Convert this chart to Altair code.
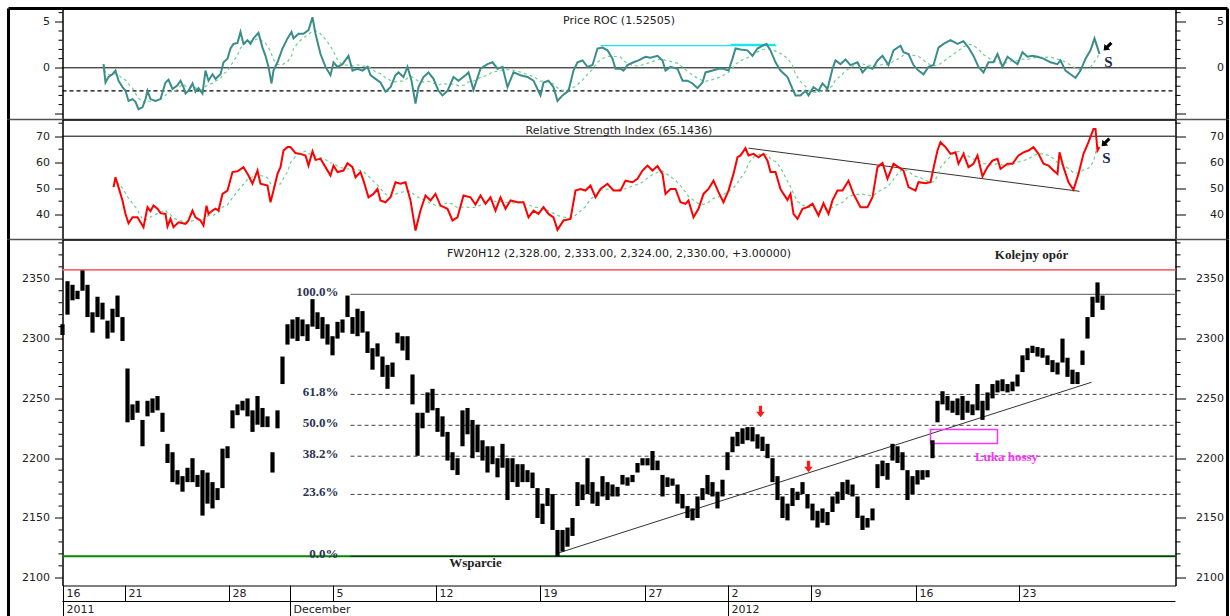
import altair as alt
import pandas as pd

W = 1113
H_ROC, H_RSI, H_PX = 111, 120, 346
ROC_DOM = [-5.62, 6.45]
RSI_DOM = [30.27, 76.42]
PX_DOM = [2093.56, 2382.86]

LABEL_FONT = "DejaVu Sans"
SERIF = "Liberation Serif"
TXT = "#222222"

# ---------------- data ----------------
# price bars (one bar every 5 time units)
bar_low = [2303, 2320, 2332, 2333, 2340, 2318, 2305, 2318, 2316, 2300,
           2305, 2318, 2298, 2230, 2232, 2238, 2210, 2235, 2238, 2240,
           2222, 2196, 2180, 2178, 2172, 2180, 2180, 2176, 2152, 2162,
           2158, 2165, 2175, 2200, 2225, 2236, 2240, 2235, 2222, 2228,
           2226, 2226, 2188, 2225, 2262, 2295, 2300, 2298, 2302, 2298,
           2310, 2308, 2300, 2295, 2286, 2300, 2305, 2318, 2304, 2302,
           2305, 2288, 2274, 2285, 2268, 2258, 2268, 2296, 2290, 2282,
           2245, 2202, 2225, 2238, 2240, 2222, 2218, 2198, 2190, 2186,
           2210, 2220, 2200, 2205, 2198, 2188, 2195, 2184, 2192, 2165,
           2180, 2176, 2180, 2180, 2175, 2150, 2145, 2160, 2140, 2118,
           2122, 2126, 2135, 2160, 2165, 2170, 2162, 2160, 2168, 2165,
           2168, 2168, 2178, 2177, 2180, 2188, 2194, 2194, 2190, 2190,
           2168, 2176, 2177, 2162, 2158, 2150, 2148, 2150, 2165, 2170,
           2168, 2158, 2168, 2190, 2205, 2210, 2212, 2215, 2214, 2208,
           2206, 2200, 2180, 2165, 2150, 2148, 2160, 2165, 2170, 2158,
           2148, 2142, 2146, 2144, 2155, 2162, 2165, 2170, 2168, 2150,
           2140, 2142, 2148, 2175, 2185, 2182, 2198, 2196, 2190, 2165,
           2170, 2178, 2182, 2184, 2200, 2230, 2245, 2240, 2238, 2236,
           2232, 2238, 2236, 2240, 2232, 2240, 2250, 2255, 2256, 2255,
           2256, 2260, 2272, 2282, 2288, 2285, 2284, 2278, 2272, 2270,
           2280, 2268, 2262, 2262, 2278, 2300, 2318, 2330, 2324]
bar_high = [2312, 2348, 2345, 2340, 2357, 2345, 2322, 2335, 2330, 2315,
            2325, 2336, 2318, 2275, 2245, 2248, 2232, 2248, 2250, 2252,
            2238, 2212, 2205, 2190, 2185, 2192, 2200, 2186, 2190, 2188,
            2180, 2175, 2208, 2210, 2240, 2245, 2248, 2250, 2240, 2252,
            2242, 2235, 2205, 2240, 2285, 2312, 2316, 2318, 2316, 2312,
            2333, 2322, 2318, 2312, 2302, 2314, 2316, 2336, 2318, 2325,
            2323, 2306, 2292, 2296, 2285, 2278, 2280, 2305, 2302, 2302,
            2270, 2238, 2238, 2255, 2258, 2242, 2235, 2222, 2205, 2200,
            2240, 2242, 2232, 2228, 2215, 2210, 2210, 2200, 2212, 2200,
            2200, 2195, 2195, 2190, 2188, 2175, 2162, 2175, 2170, 2140,
            2140, 2142, 2150, 2180, 2178, 2200, 2180, 2172, 2185, 2180,
            2178, 2176, 2186, 2184, 2186, 2196, 2200, 2200, 2206, 2198,
            2186, 2184, 2183, 2178, 2170, 2160, 2158, 2168, 2175, 2186,
            2180, 2172, 2182, 2205, 2218, 2222, 2225, 2226, 2226, 2220,
            2218, 2212, 2200, 2185, 2168, 2162, 2175, 2172, 2180, 2170,
            2162, 2156, 2158, 2155, 2168, 2172, 2180, 2182, 2178, 2168,
            2152, 2150, 2158, 2195, 2198, 2196, 2212, 2210, 2205, 2190,
            2185, 2190, 2190, 2190, 2215, 2248, 2256, 2252, 2248, 2250,
            2252, 2248, 2245, 2262, 2248, 2255, 2262, 2265, 2266, 2262,
            2264, 2270, 2286, 2292, 2294, 2293, 2292, 2286, 2282, 2280,
            2300, 2284, 2274, 2272, 2290, 2318, 2335, 2347, 2336]
BAR_STEP = 5
bar_t = [i * BAR_STEP for i in range(len(bar_low))]

# Price ROC readings (time, value)
roc_pts = [(41, 0.4), (43, -1.6), (46, -1.0), (50, -0.7), (53, -0.3), (56, -1.4), (60, -2.1), (63, -2.5),
           (66, -3.6), (70, -3.4), (73, -3.7), (76, -4.5), (80, -4.3), (83, -3.4), (85, -2.5), (88, -3.4),
           (93, -3.6), (98, -3.4), (103, -1.6), (106, -1.3), (110, -2.3), (115, -1.9), (118, -1.4), (121, -2.1),
           (123, -2.8), (126, -2.5), (130, -1.7), (133, -2.6), (136, -2.2), (140, -2.8), (143, -0.3), (146, -1.4),
           (150, -0.7), (153, -1.2), (158, -0.7), (161, 0.6), (165, 1.0), (168, 2.1), (171, 2.6), (175, 2.7),
           (178, 3.9), (181, 2.6), (185, 3.0), (188, 2.6), (191, 3.2), (196, 3.8), (200, 2.2), (203, 1.3),
           (206, 0.1), (209, -1.7), (211, -0.3), (215, 0.6), (220, 2.1), (225, 3.2), (229, 3.9), (231, 3.2),
           (236, 3.7), (241, 3.7), (246, 4.1), (250, 5.5), (253, 3.7), (258, 1.5), (263, 0.1), (268, -0.8),
           (271, 0.6), (275, 0.1), (280, 0.4), (286, 1.3), (290, -0.3), (295, -0.1), (300, -0.3), (305, 0.1),
           (308, -0.8), (313, -1.2), (318, -1.6), (323, -2.6), (328, -2.1), (333, -0.8), (336, -0.5), (341, -1.0),
           (345, 0.1), (349, -1.4), (353, -3.9), (356, -2.1), (361, -1.0), (366, -0.5), (371, -1.2), (376, -2.5),
           (380, -3.0), (385, -2.5), (391, -1.0), (396, -1.4), (403, -0.8), (406, -0.5), (411, -2.4), (418, -0.1),
           (425, 0.4), (430, 0.6), (435, -0.1), (440, 0.1), (445, -2.1), (451, -0.5), (458, -0.8), (465, -1.0),
           (471, -1.4), (478, -3.0), (481, -1.6), (486, -1.4), (491, -2.1), (495, -3.6), (500, -3.0), (506, -2.5),
           (511, -0.3), (515, 0.6), (520, 0.8), (525, 0.1), (530, 0.3), (535, 2.1), (540, 2.2), (545, 1.9),
           (550, 1.0), (553, -0.1), (558, -0.1), (561, -0.3), (565, 0.3), (571, 0.6), (576, 0.8), (583, 1.2),
           (588, 1.1), (595, 1.3), (600, 0.8), (603, -0.3), (608, 0.1), (615, -0.1), (620, -1.4), (625, -1.4),
           (630, -1.7), (635, -2.2), (640, -1.6), (643, -0.5), (650, -0.3), (656, -0.1), (661, -0.1), (666, -0.3),
           (670, 1.0), (673, 2.1), (678, 2.0), (685, 1.9), (690, 1.3), (695, 2.1), (700, 2.4), (704, 2.6),
           (708, 1.9), (713, 0.6), (718, -0.3), (725, -1.0), (730, -2.3), (733, -3.0), (738, -3.0), (743, -2.5),
           (746, -3.0), (751, -2.1), (756, -2.5), (760, -1.7), (765, -2.3), (770, -0.1), (773, 0.8), (778, 0.4),
           (783, 0.9), (788, 0.3), (795, 0.6), (800, -0.5), (805, 0.1), (810, -0.1), (815, 0.8), (820, 1.3),
           (826, 0.3), (831, 1.9), (838, 2.4), (841, 1.7), (846, 1.5), (851, 0.3), (856, -0.3), (861, -0.7),
           (866, 0.1), (871, 0.3), (876, 2.2), (881, 2.6), (888, 3.0), (895, 2.6), (901, 2.9), (906, 2.2),
           (911, 1.3), (916, 0.1), (921, -0.5), (926, 0.6), (931, 0.6), (935, 1.5), (940, 0.1), (945, 1.2),
           (950, 0.8), (955, 0.4), (960, 1.7), (965, 1.2), (970, 1.3), (975, 1.2), (981, 1.0), (988, 0.6),
           (995, 0.4), (998, 0.8), (1003, -0.3), (1008, -0.7), (1013, -1.1), (1018, -0.3), (1023, 1.0),
           (1028, 1.9), (1032, 3.2), (1035, 2.2), (1037, 1.5)]
roc_t = [p[0] for p in roc_pts]
roc_v = [p[1] for p in roc_pts]

# RSI readings (time, value)
rsi_pts = [(51, 50.4), (53, 54.2), (56, 50.4), (60, 45.3), (63, 40.1), (66, 36.5), (70, 38.8), (75, 38.8),
           (78, 36.9), (81, 35.0), (85, 42.7), (88, 41.2), (91, 43.3), (95, 42.1), (98, 40.4), (103, 40.1),
           (105, 35.3), (108, 38.2), (111, 35.0), (116, 36.9), (123, 36.3), (126, 37.6), (130, 41.4), (133, 38.8),
           (138, 37.6), (141, 35.6), (144, 43.3), (146, 40.1), (150, 41.4), (153, 42.1), (156, 41.4), (160, 47.8),
           (165, 49.1), (170, 56.2), (175, 56.5), (181, 58.1), (186, 54.9), (190, 51.7), (195, 56.8), (198, 51.7),
           (205, 51.0), (208, 44.6), (211, 49.1), (215, 55.5), (218, 58.1), (221, 64.5), (225, 65.8), (228, 65.8),
           (233, 63.5), (238, 63.2), (243, 62.6), (246, 58.7), (250, 64.2), (253, 60.9), (258, 61.3), (263, 58.1),
           (268, 54.9), (271, 58.7), (275, 56.2), (281, 56.8), (285, 59.6), (290, 58.1), (293, 54.2), (298, 56.2),
           (301, 52.9), (306, 46.5), (311, 47.8), (315, 49.7), (318, 45.3), (323, 44.6), (328, 46.5), (333, 52.3),
           (338, 51.7), (343, 52.3), (348, 45.3), (353, 33.7), (358, 41.4), (363, 47.2), (368, 45.3), (373, 47.8),
           (378, 43.3), (385, 42.1), (390, 37.6), (395, 38.8), (401, 47.2), (408, 46.5), (413, 43.7), (418, 47.2),
           (423, 44.0), (428, 46.5), (433, 41.4), (438, 46.5), (443, 42.1), (448, 45.3), (455, 44.6), (461, 44.6),
           (466, 38.8), (471, 41.4), (476, 40.1), (481, 42.7), (486, 40.1), (491, 38.8), (495, 34.0), (501, 37.6),
           (508, 38.2), (513, 49.1), (518, 49.7), (523, 49.1), (528, 51.0), (533, 46.5), (538, 49.7), (545, 51.7),
           (551, 49.1), (558, 49.1), (563, 52.9), (570, 52.3), (575, 53.6), (580, 56.8), (585, 58.7), (590, 56.8),
           (595, 58.5), (600, 55.5), (603, 47.8), (608, 49.7), (613, 49.7), (618, 44.6), (623, 44.0), (626, 45.3),
           (631, 38.8), (636, 42.1), (641, 47.8), (646, 49.7), (651, 52.9), (656, 48.5), (661, 44.6), (666, 49.1),
           (671, 55.5), (675, 61.9), (678, 62.6), (683, 65.4), (686, 62.6), (691, 63.2), (696, 61.9), (701, 63.2),
           (705, 60.6), (708, 56.2), (713, 56.2), (718, 49.7), (721, 47.8), (725, 45.5), (728, 47.8), (731, 40.1),
           (735, 38.2), (740, 42.1), (745, 42.7), (750, 44.0), (756, 39.5), (761, 44.2), (766, 40.1), (770, 45.3),
           (775, 49.1), (780, 49.1), (786, 52.9), (791, 47.8), (798, 42.7), (805, 42.7), (810, 46.5), (815, 58.1),
           (820, 59.7), (825, 53.6), (831, 59.4), (836, 58.1), (841, 56.8), (846, 50.4), (853, 49.1), (856, 52.3),
           (863, 51.9), (868, 52.3), (872, 59.4), (875, 64.5), (878, 67.7), (883, 65.8), (888, 63.2), (893, 63.8),
           (896, 59.4), (901, 63.2), (906, 58.1), (911, 59.4), (915, 62.6), (920, 54.5), (925, 58.1), (930, 60.6),
           (935, 61.3), (938, 57.4), (945, 59.4), (950, 59.4), (956, 62.6), (961, 63.8), (966, 64.5), (971, 65.8),
           (976, 63.2), (981, 59.4), (986, 58.7), (991, 56.8), (995, 55.5), (997, 63.8), (1001, 58.1), (1006, 52.3),
           (1011, 49.4), (1016, 55.5), (1021, 63.2), (1026, 67.7), (1031, 72.8), (1033, 72.8), (1035, 64.5),
           (1037, 65.8)]
rsi_t = [p[0] for p in rsi_pts]
rsi_v = [p[1] for p in rsi_pts]

# x axis
day_pos = [1, 63, 167, 228, 271, 374, 478, 583, 666, 749, 854, 957]
day_lab = ["16", "21", "28", "", "5", "12", "19", "27", "2", "9", "16", "23"]
period_pos = [1, 228, 666]
period_lab = ["2011", "December", "2012"]

# y axis ticks
roc_major = [-5, 0, 5]
roc_minor = [-4, -3, -2, -1, 1, 2, 3, 4, 6]
rsi_major = [40, 50, 60, 70]
rsi_minor = [35, 45, 55, 65, 75]
px_major = [2100, 2150, 2200, 2250, 2300, 2350]
px_minor = [v for v in range(2100, 2390, 10) if v not in px_major]

# levels / annotations
roc_zero = 0
roc_lower = -2.5
roc_cyan = {"t": [538, 668], "t2": [714, 713], "v": [2.42, 2.55]}
roc_sell_arrow = {"t": [1045], "v": [2.3]}
roc_sell_text = {"t": [1046], "v": [0.6]}

rsi_upper = 70
rsi_trend = {"t": [686], "t2": [1017], "v": [65.4], "v2": [48.8]}
rsi_sell_arrow = {"t": [1043], "v": [67.6]}
rsi_sell_text = {"t": [1044], "v": [61.8]}

resistance = 2357.5
support = 2118
fib_ratio = [1.0, 0.618, 0.5, 0.382, 0.236, 0.0]
fib_label = ["100.0%", "61.8%", "50.0%", "38.2%", "23.6%", "0.0%"]
fib_low, fib_high = 2118, 2337
fib_start = 288
fib_label_t = 276
px_trend = {"t": [495], "t2": [1029], "v": [2120.5], "v2": [2263.5]}
gap_box = {"t": [868], "t2": [935], "v": [2212.3], "v2": [2224.0]}
red_arrows = {"t": [698, 746], "v": [2239, 2193]}
ann_text = ["Kolejny opór", "Wsparcie", "Luka hossy"]
ann_t = [969, 413, 944]
ann_v = [2370.3, 2112, 2200.6]
ann_color = ["#222222", "#222222", "#ff33ff"]

ARROW = "M-0.28,-1 L0.28,-1 L0.28,0.05 L0.75,0.05 L0,1 L-0.75,0.05 L-0.28,0.05 Z"

# ---------------- helpers ----------------
def xq(field="t"):
    return alt.X(f"{field}:Q", scale=alt.Scale(domain=[0, W], nice=False, zero=False), axis=None)


def yq(field, dom, axis=None):
    return alt.Y(f"{field}:Q", scale=alt.Scale(domain=dom, nice=False, zero=False), axis=axis)


ONE = pd.DataFrame({"k": [0]})


def full_hline(value, dom, color, width=1.0, dash=None):
    kw = dict(color=color, strokeWidth=width)
    if dash:
        kw["strokeDash"] = dash
    return alt.Chart(pd.DataFrame({"v": [value]})).mark_rule(**kw).encode(
        y=yq("v", dom), x=alt.value(0), x2=alt.value(W))


def axis_layers(dom, majors, minors, label_expr=None):
    la = dict(orient="left", values=majors, format="d", tickSize=8, labelPadding=5,
              title=None, grid=False)
    ra = dict(orient="right", values=majors, format="d", tickSize=10, labelPadding=38,
              labelAlign="right", title=None, grid=False)
    if label_expr:
        la["labelExpr"] = label_expr
        ra["labelExpr"] = label_expr
    df = pd.DataFrame({"v": minors})
    left = alt.Chart(df).mark_rule(color="black", strokeWidth=1).encode(
        y=yq("v", dom, alt.Axis(**la)), x=alt.value(-4), x2=alt.value(0))
    right = alt.Chart(df).mark_rule(color="black", strokeWidth=1).encode(
        y=yq("v", dom, alt.Axis(**ra)), x=alt.value(W), x2=alt.value(W + 5))
    return [left, right]


def frame_layers(h, top=False, sep=True, extra=0):
    base = alt.Chart(ONE)
    out = [
        base.mark_rule(color="black", strokeWidth=3).encode(
            x=alt.value(-54), y=alt.value(0), y2=alt.value(h + extra)),
        base.mark_rule(color="black", strokeWidth=3).encode(
            x=alt.value(W + 52), y=alt.value(0), y2=alt.value(h + extra)),
    ]
    if top:
        out.append(base.mark_rule(color="black", strokeWidth=3).encode(
            x=alt.value(-54), x2=alt.value(W + 52), y=alt.value(0)))
    if sep:
        out.append(base.mark_rule(color="#505050", strokeWidth=1.5).encode(
            x=alt.value(-54), x2=alt.value(W + 52), y=alt.value(h)))
    return out


def title_layer(text, y):
    return alt.Chart(pd.DataFrame({"s": [text]})).mark_text(
        font=LABEL_FONT, fontSize=11, color=TXT, align="center", baseline="middle"
    ).encode(text="s:N", x=alt.value(W / 2), y=alt.value(y))


def sell_layers(arrow, label, dom):
    a = alt.Chart(pd.DataFrame(arrow)).mark_point(
        shape=ARROW, filled=True, color="black", size=120, angle=45, opacity=1
    ).encode(x=xq(), y=yq("v", dom))
    s = alt.Chart(pd.DataFrame(label)).mark_text(
        text="S", font=SERIF, fontWeight="bold", fontSize=15, color="#1b2a4a"
    ).encode(x=xq(), y=yq("v", dom))
    return [a, s]


def indicator_lines(t, v, dom, color):
    df = pd.DataFrame({"t": t, "v": v})
    sig = alt.Chart(df).transform_window(
        sig="mean(v)", frame=[-5, 0], sort=[alt.SortField("t")]
    ).mark_line(color="#6fd08f", strokeWidth=1.2, strokeDash=[3, 3]).encode(
        x=xq(), y=yq("sig", dom))
    main = alt.Chart(df).mark_line(color=color, strokeWidth=2).encode(
        x=xq(), y=yq("v", dom))
    return [sig, main]


def date_row(pos, labels, y0, y1):
    df = pd.DataFrame({"t": pos, "s": labels})
    rules = alt.Chart(df).mark_rule(color="black", strokeWidth=1).encode(
        x=xq(), y=alt.value(y0), y2=alt.value(y1))
    text = alt.Chart(df).mark_text(font=LABEL_FONT, fontSize=11, color=TXT, align="left",
                                   baseline="top", dx=3).encode(
        x=xq(), y=alt.value(y0 + 2), text="s:N")
    line = alt.Chart(ONE).mark_rule(color="black", strokeWidth=1).encode(
        x=alt.value(0), x2=alt.value(W), y=alt.value(y1))
    return [rules, text, line]


# ---------------- ROC panel ----------------
roc_layers = [
    full_hline(roc_zero, ROC_DOM, "black", 1),
    full_hline(roc_lower, ROC_DOM, "black", 1.2, [4, 3]),
    alt.Chart(pd.DataFrame(roc_cyan)).mark_rule(color="#19e6f0", strokeWidth=1.3).encode(
        x=xq(), x2="t2:Q", y=yq("v", ROC_DOM)),
    *indicator_lines(roc_t, roc_v, ROC_DOM, "#3b8d8a"),
    *sell_layers(roc_sell_arrow, roc_sell_text, ROC_DOM),
    title_layer("Price ROC (1.52505)", 12),
    *axis_layers(ROC_DOM, roc_major, roc_minor, "datum.value == -5 ? '' : datum.label"),
    *frame_layers(H_ROC, top=True),
]
roc_panel = alt.layer(*roc_layers).resolve_axis(y="independent").properties(width=W, height=H_ROC)

# ---------------- RSI panel ----------------
rsi_layers = [
    full_hline(rsi_upper, RSI_DOM, "black", 1),
    alt.Chart(pd.DataFrame(rsi_trend)).mark_rule(color="#333333", strokeWidth=1).encode(
        x=xq(), x2="t2:Q", y=yq("v", RSI_DOM), y2="v2:Q"),
    *indicator_lines(rsi_t, rsi_v, RSI_DOM, "#ff0000"),
    *sell_layers(rsi_sell_arrow, rsi_sell_text, RSI_DOM),
    title_layer("Relative Strength Index (65.1436)", 11),
    *axis_layers(RSI_DOM, rsi_major, rsi_minor),
    *frame_layers(H_RSI),
]
rsi_panel = alt.layer(*rsi_layers).resolve_axis(y="independent").properties(width=W, height=H_RSI)

# ---------------- price panel ----------------
fib_df = pd.DataFrame({"r": fib_ratio, "lab": fib_label})
fib_df["v"] = fib_low + fib_df["r"] * (fib_high - fib_low)
fib_df["t"] = fib_start
fib_df["t2"] = W
fib_mid = fib_df[(fib_df["r"] > 0) & (fib_df["r"] < 1)]
fib_top = fib_df[fib_df["r"] == 1]
fib_bot = fib_df[fib_df["r"] == 0]
fib_lab_df = fib_df.assign(t=fib_label_t)

px_df = pd.DataFrame({"t": bar_t, "lo": bar_low, "hi": bar_high})
ann_df = pd.DataFrame({"s": ann_text, "t": ann_t, "v": ann_v, "c": ann_color})

px_layers = [
    full_hline(resistance, PX_DOM, "#ff6b6b", 1.6),
    full_hline(support, PX_DOM, "#008a00", 2),
    alt.Chart(fib_mid).mark_rule(color="#444444", strokeWidth=1, strokeDash=[4, 3]).encode(
        x=xq(), x2="t2:Q", y=yq("v", PX_DOM)),
    alt.Chart(fib_top).mark_rule(color="#777777", strokeWidth=1.3).encode(
        x=xq(), x2="t2:Q", y=yq("v", PX_DOM)),
    alt.Chart(fib_bot).mark_rule(color="#102010", strokeWidth=1.2).encode(
        x=xq(), x2="t2:Q", y=yq("v", PX_DOM)),
    alt.Chart(fib_lab_df).mark_text(font=SERIF, fontWeight="bold", fontSize=13, color="#2b3350",
                                    align="right", baseline="middle", dy=-2).encode(
        x=xq(), y=yq("v", PX_DOM), text="lab:N"),
    alt.Chart(pd.DataFrame(px_trend)).mark_rule(color="#333333", strokeWidth=1).encode(
        x=xq(), x2="t2:Q", y=yq("v", PX_DOM), y2="v2:Q"),
    alt.Chart(pd.DataFrame(gap_box)).mark_rect(fillOpacity=0, stroke="#ff33ff", strokeWidth=1.5).encode(
        x=xq(), x2="t2:Q", y=yq("v", PX_DOM), y2="v2:Q"),
    alt.Chart(px_df).mark_rule(color="black", strokeWidth=4.2).encode(
        x=xq(), y=yq("lo", PX_DOM), y2="hi:Q"),
    alt.Chart(pd.DataFrame(red_arrows)).mark_point(shape=ARROW, filled=True, color="#ff1a1a",
                                                    size=130, opacity=1).encode(
        x=xq(), y=yq("v", PX_DOM)),
    alt.Chart(ann_df).mark_text(font=SERIF, fontWeight="bold", fontSize=13, align="center",
                                baseline="middle").encode(
        x=xq(), y=yq("v", PX_DOM), text="s:N", color=alt.Color("c:N", scale=None)),
    title_layer("FW20H12 (2,328.00, 2,333.00, 2,324.00, 2,330.00, +3.00000)", 14),
    *axis_layers(PX_DOM, px_major, px_minor),
    *date_row(day_pos, day_lab, H_PX, H_PX + 16),
    *date_row(period_pos, period_lab, H_PX + 16, H_PX + 33),
    *frame_layers(H_PX, sep=False, extra=32),
]
px_panel = alt.layer(*px_layers).resolve_axis(y="independent").properties(width=W, height=H_PX)

chart = alt.vconcat(roc_panel, rsi_panel, px_panel, spacing=0, bounds="flush").properties(
    padding={"left": 6.5, "top": 6.5, "right": 0, "bottom": 0},
    background="white",
).configure_view(stroke="black", strokeWidth=1).configure_axis(
    labelFont=LABEL_FONT, labelFontSize=11, labelColor=TXT, domainColor="black",
    tickColor="black", domainWidth=1, tickWidth=1)

chart.save("out.html", embed_options={"renderer": "svg", "actions": False})
